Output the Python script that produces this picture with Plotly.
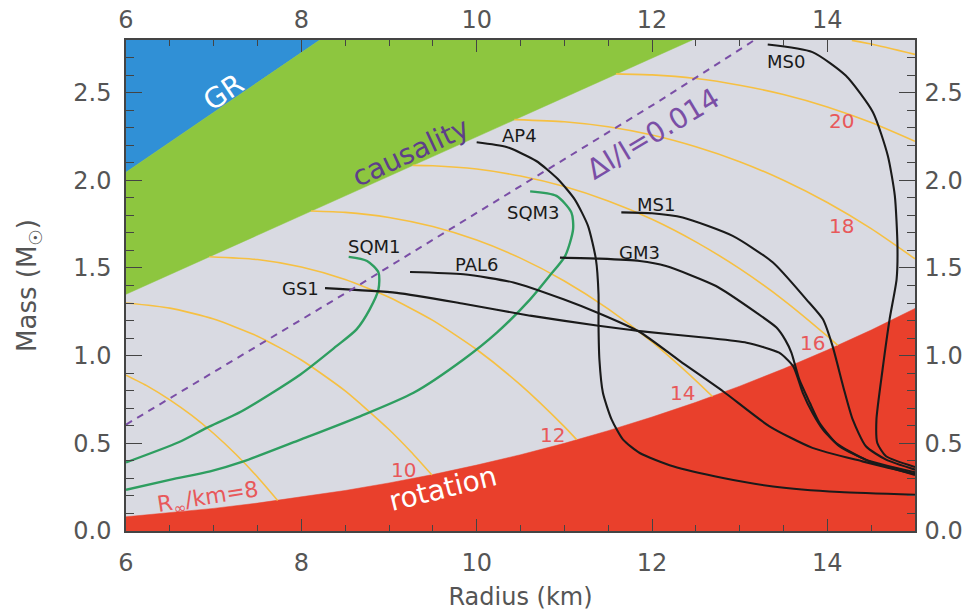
import plotly.graph_objects as go

# ---------------- data ----------------
# boundary regions (R in km, M in Msun)
gr_R = [6.0, 8.21, 6.0]
gr_M = [2.046, 2.8, 2.8]
caus_R = [6.0, 12.46, 8.21, 6.0]
caus_M = [1.35, 2.8, 2.8, 2.046]
rot_R = [6.0, 6.5, 7.0, 7.5, 8.0, 8.5, 9.0, 9.5, 10.0, 10.5, 11.0, 11.5, 12.0, 12.5, 13.0, 13.5, 14.0, 14.5, 15.0, 15.0, 6.0]
rot_M = [0.081, 0.103, 0.129, 0.159, 0.193, 0.231, 0.274, 0.322, 0.376, 0.435, 0.500, 0.572, 0.650, 0.734, 0.826, 0.925, 1.032, 1.146, 1.269, 0.0, 0.0]

# constant R_inf contours
rinf_R = {
    8:  [6.0, 6.25, 6.5, 6.75, 7.0, 7.25, 7.5, 7.73],
    10: [6.0, 6.5, 7.0, 7.5, 8.0, 8.5, 9.0, 9.25, 9.49],
    12: [6.95, 7.5, 8.0, 8.5, 9.0, 9.5, 10.0, 10.5, 11.0, 11.14],
    14: [8.11, 8.5, 9.0, 9.5, 10.0, 10.5, 11.0, 11.5, 12.0, 12.5, 12.69],
    16: [9.27, 9.5, 10.0, 10.5, 11.0, 11.5, 12.0, 12.5, 13.0, 13.5, 14.0, 14.12],
    18: [10.43, 11.0, 11.5, 12.0, 12.5, 13.0, 13.5, 14.0, 14.5, 15.0],
    20: [11.59, 12.0, 12.5, 13.0, 13.5, 14.0, 14.5, 15.0],
    22: [14.28, 14.5, 15.0],
}
rinf_M = {
    8:  [0.889, 0.825, 0.748, 0.659, 0.556, 0.439, 0.308, 0.174],
    10: [1.300, 1.271, 1.209, 1.111, 0.975, 0.799, 0.579, 0.452, 0.319],
    12: [1.564, 1.548, 1.505, 1.434, 1.333, 1.201, 1.035, 0.833, 0.595, 0.521],
    14: [1.825, 1.817, 1.788, 1.736, 1.659, 1.556, 1.426, 1.267, 1.078, 0.858, 0.767],
    16: [2.085, 2.083, 2.064, 2.024, 1.964, 1.882, 1.778, 1.649, 1.496, 1.317, 1.111, 1.058],
    18: [2.346, 2.334, 2.305, 2.258, 2.191, 2.106, 2.000, 1.873, 1.724, 1.552],
    20: [2.607, 2.601, 2.580, 2.542, 2.489, 2.418, 2.329, 2.222],
    22: [2.798, 2.777, 2.718],
}
rinf_labels = ["10", "12", "14", "16", "18", "20"]
rinf_lab_R = [9.16, 10.87, 12.35, 13.83, 14.16, 14.16]
rinf_lab_M = [0.35, 0.55, 0.788, 1.074, 1.74, 2.34]

# strange quark matter curves
sqm1_R = [6.0, 6.60, 6.92, 7.32, 7.99, 8.40, 8.63, 8.78, 8.88, 8.88, 8.75, 8.54]
sqm1_M = [0.391, 0.506, 0.588, 0.683, 0.893, 1.054, 1.15, 1.264, 1.378, 1.474, 1.54, 1.563]
sqm3_R = [6.0, 6.51, 6.96, 7.34, 7.99, 8.67, 9.28, 9.85, 10.23, 10.61, 10.83, 11.01, 11.10, 11.08, 10.91, 10.61]
sqm3_M = [0.235, 0.293, 0.34, 0.397, 0.521, 0.654, 0.788, 0.978, 1.131, 1.321, 1.454, 1.569, 1.721, 1.817, 1.911, 1.937]

# normal matter EOS curves
ap4_R = [10.0, 10.34, 10.68, 10.92, 11.12, 11.27, 11.36, 11.39, 11.39, 11.40, 11.44, 11.54, 11.67, 11.86, 12.24, 12.81, 13.38, 14.14, 15.0]
ap4_M = [2.217, 2.19, 2.11, 2.01, 1.89, 1.74, 1.55, 1.35, 1.17, 0.978, 0.788, 0.635, 0.521, 0.445, 0.369, 0.302, 0.254, 0.222, 0.207]
ms0_R = [13.32, 13.83, 14.21, 14.52, 14.69, 14.77, 14.80, 14.79, 14.71, 14.63, 14.56, 14.57, 14.67, 15.0]
ms0_M = [2.774, 2.731, 2.597, 2.388, 2.14, 1.911, 1.626, 1.435, 1.207, 0.921, 0.635, 0.502, 0.426, 0.365]
ms1_R = [11.65, 12.0, 12.35, 12.92, 13.38, 13.76, 13.95, 14.06, 14.18, 14.29, 14.44, 14.67, 15.0]
ms1_M = [1.817, 1.812, 1.788, 1.683, 1.531, 1.321, 1.207, 1.054, 0.826, 0.635, 0.483, 0.407, 0.35]
gm3_R = [10.95, 11.4, 11.86, 12.16, 12.73, 13.19, 13.42, 13.52, 13.59, 13.68, 13.80, 13.91, 14.10, 14.44, 15.0]
gm3_M = [1.559, 1.553, 1.54, 1.511, 1.397, 1.245, 1.16, 1.09, 1.017, 0.864, 0.731, 0.617, 0.502, 0.407, 0.335]
pal6_R = [9.24, 9.85, 10.42, 10.99, 11.40, 11.86, 12.32, 12.81, 13.34, 13.83, 14.40, 15.0]
pal6_M = [1.477, 1.464, 1.417, 1.321, 1.24, 1.135, 0.969, 0.797, 0.597, 0.474, 0.397, 0.325]
gs1_R = [8.27, 9.09, 9.85, 10.61, 11.37, 11.86, 12.62, 13.08, 13.45, 13.61, 13.72, 13.83, 13.95, 14.14, 14.48, 15.0]
gs1_M = [1.385, 1.358, 1.296, 1.228, 1.172, 1.140, 1.102, 1.074, 1.017, 0.94, 0.788, 0.674, 0.578, 0.483, 0.397, 0.32]

eos_names = ["AP4", "MS0", "MS1", "GM3", "PAL6", "GS1", "SQM1", "SQM3"]
eos_lab_R = [10.49, 13.53, 12.05, 11.86, 10.0, 7.99, 8.83, 10.65]
eos_lab_M = [2.254, 2.68, 1.864, 1.588, 1.521, 1.382, 1.622, 1.817]

# glitch constraint dI/I = 0.014
dii_R = [6.0, 8.6, 12.09, 13.17]
dii_M = [0.607, 1.385, 2.454, 2.8]

x_ticks = [6, 8, 10, 12, 14]
y_ticks = [0.0, 0.5, 1.0, 1.5, 2.0, 2.5]

# ---------------- styling ----------------
BG = "#d9dae2"
BLUE = "#3090d6"
GREEN = "#8dc63f"
RED = "#e9402c"
YEL = "#f6c042"
SQMC = "#2e9e60"
PURP = "#7a4ea6"
LABRED = "#e8585a"
FONT = "DejaVu Sans"
TICKC = "#555555"

fig = go.Figure()

def fill(xs, ys, color):
    fig.add_trace(go.Scatter(x=xs, y=ys, mode="lines", fill="toself", fillcolor=color,
                             line=dict(color=color, width=0.5), hoverinfo="skip"))

fill(rot_R, rot_M, RED)
fill(gr_R, gr_M, BLUE)
fill(caus_R, caus_M, GREEN)

for k in rinf_R:
    fig.add_trace(go.Scatter(x=rinf_R[k], y=rinf_M[k], mode="lines",
                             line=dict(color=YEL, width=1.6, shape="spline", smoothing=0.6),
                             hoverinfo="skip"))

for xs, ys in [(sqm1_R, sqm1_M), (sqm3_R, sqm3_M)]:
    fig.add_trace(go.Scatter(x=xs, y=ys, mode="lines",
                             line=dict(color=SQMC, width=2.4, shape="spline", smoothing=0.7),
                             hoverinfo="skip"))

for xs, ys in [(ap4_R, ap4_M), (ms0_R, ms0_M), (ms1_R, ms1_M), (gm3_R, gm3_M),
               (pal6_R, pal6_M), (gs1_R, gs1_M)]:
    fig.add_trace(go.Scatter(x=xs, y=ys, mode="lines",
                             line=dict(color="#1a1a1a", width=2.1, shape="spline", smoothing=0.6),
                             hoverinfo="skip"))

fig.add_trace(go.Scatter(x=dii_R, y=dii_M, mode="lines",
                         line=dict(color=PURP, width=2.0, dash="7px,6px"), hoverinfo="skip"))

# dummy trace to activate the mirrored (top/right) axes
fig.add_trace(go.Scatter(x=[dii_R[0]], y=[dii_M[0]], mode="markers", marker=dict(opacity=0),
                         xaxis="x2", yaxis="y2", hoverinfo="skip"))

ann = []
def txt(x, y, s, size, color, angle=0):
    ann.append(dict(x=x, y=y, xref="x", yref="y", text=s, showarrow=False,
                    font=dict(family=FONT, size=size, color=color), textangle=angle))

txt(7.11, 2.50, "GR", 28, "white", -34)
txt(9.24, 2.16, "causality", 28, "#5e3f8a", -25)
txt(12.02, 2.264, "ΔI/I=0.014", 28, PURP, -31)
txt(9.62, 0.245, "rotation", 28, "white", -14)
txt(6.94, 0.188, "R<sub>∞</sub>/km=8", 22, LABRED, -9)
for s, x, y in zip(rinf_labels, rinf_lab_R, rinf_lab_M):
    txt(x, y, s, 20, LABRED)
for s, x, y in zip(eos_names, eos_lab_R, eos_lab_M):
    txt(x, y, s, 18, "#1a1a1a")

axis_common = dict(showgrid=False, zeroline=False, ticks="inside", tickcolor="#444",
                   tickwidth=1.3, linecolor="#444", linewidth=1.5, showline=True,
                   automargin=False,
                   tickfont=dict(family=FONT, size=24, color=TICKC))

fig.update_layout(
    width=974, height=611,
    margin=dict(l=126, r=59, t=40, b=80, autoexpand=False),
    plot_bgcolor=BG, paper_bgcolor="white", showlegend=False,
    annotations=ann,
    xaxis=dict(range=[6, 15], tickvals=x_ticks, ticklen=12,
               minor=dict(dtick=0.5, ticks="inside", ticklen=6, tickcolor="#444"),
               title=dict(text="Radius (km)", font=dict(family=FONT, size=24, color=TICKC), standoff=15),
               ticklabelstandoff=9, **axis_common),
    yaxis=dict(range=[0, 2.8], tickvals=y_ticks, tickformat=".1f", ticklen=16,
               minor=dict(dtick=0.1, ticks="inside", ticklen=8, tickcolor="#444"),
               title=dict(text="Mass (M<sub>☉</sub>)", font=dict(family=FONT, size=26, color=TICKC), standoff=29),
               ticklabelstandoff=8, **axis_common),
    xaxis2=dict(range=[6, 15], tickvals=x_ticks, ticklen=12, overlaying="x", side="top", anchor="y",
                minor=dict(dtick=0.5, ticks="inside", ticklen=6, tickcolor="#444"),
                ticklabelstandoff=1, **axis_common),
    yaxis2=dict(range=[0, 2.8], tickvals=y_ticks, tickformat=".1f", ticklen=16, overlaying="y",
                side="right", anchor="x",
                minor=dict(dtick=0.1, ticks="inside", ticklen=8, tickcolor="#444"),
                ticklabelstandoff=3, **axis_common),
)

# remove the browser's default body margin so the figure sits at the page origin
fig.write_html("out.html", config={"displayModeBar": False},
               post_script="document.body.style.margin='0';")
